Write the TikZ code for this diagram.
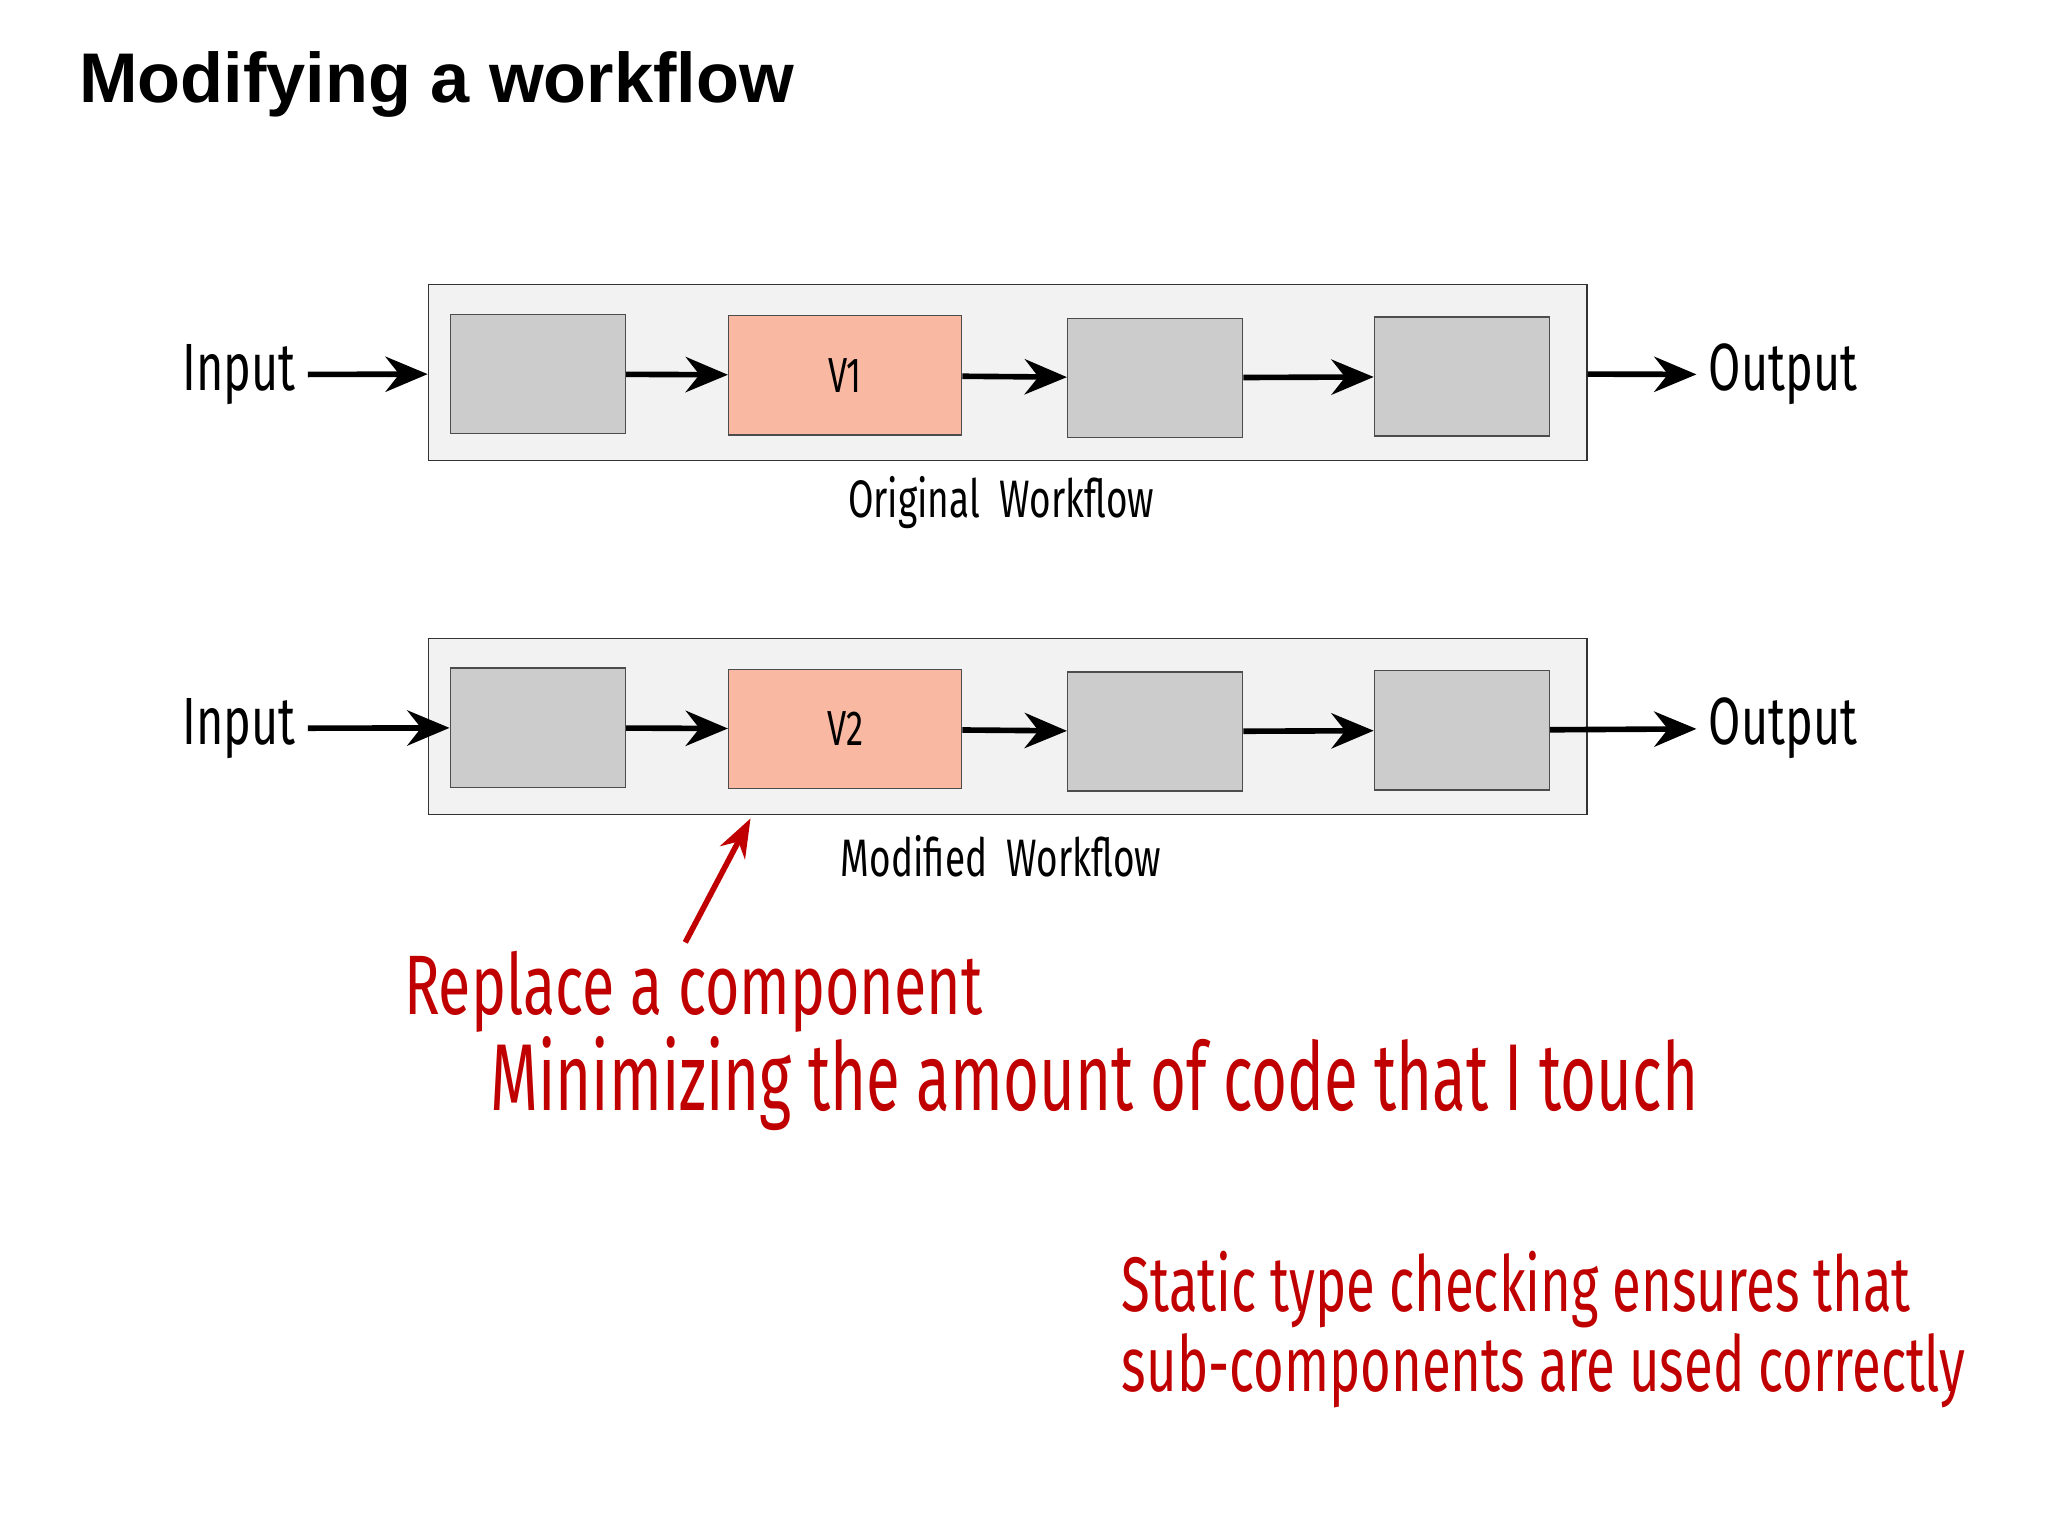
\documentclass[tikz,border=0pt]{standalone}
\usepackage{fontspec}
\usepackage{graphicx}
\setmainfont{Fira Sans}
\newfontfamily\titlefont{Liberation Sans}
\usetikzlibrary{arrows.meta}
\newcommand{\narrow}[1]{\scalebox{0.7}[1]{#1}}
\definecolor{redink}{HTML}{C00000}
\definecolor{salmon}{HTML}{F8B8A2}
\tikzset{
  stage/.style={draw=black!70, fill=black!20, minimum width=1.75cm, minimum height=1.19cm},
  vstage/.style={draw=black!70, fill=salmon, minimum width=2.33cm, minimum height=1.19cm, font=\fontsize{14}{16}\selectfont},
  frame/.style={draw=black!80, fill=black!5, minimum width=11.58cm, minimum height=1.76cm},
  flow/.style={-{Stealth[length=12pt,width=10pt]}, line width=1.6pt},
  hand/.style={font=\fontsize{19}{21}\selectfont},
  note/.style={text=redink, font=\fontsize{24}{28}\selectfont, anchor=west}
}
\begin{document}
\begin{tikzpicture}[x=0.01305cm,y=-0.01305cm]
	\useasboundingbox (0,0) rectangle (1569,1176);
	\node[anchor=west, inner sep=0pt, font=\titlefont\bfseries\fontsize{20}{24}\selectfont] at (60,65) (title) {Modifying a workflow};

	% original workflow
	\node at (772,285.5) [frame] (f1) {};
	\node at (412,286.5) [stage] (a1) {};
	\node at (647.5,287.5) [vstage] (v1) {\narrow{V1}};
	\node at (885,289.5) [stage] (c1) {};
	\node at (1120,288.5) [stage] (d1) {};
	\node at (183,287) [hand] (in1) {\narrow{Input}};
	\node at (1366,287) [hand] (out1) {\narrow{Output}};
	\node at (767,385) [font=\fontsize{15}{17}\selectfont] (l1) {\narrow{Original\ \ Workflow}};

	% modified workflow
	\node at (772,556.5) [frame] (f2) {};
	\node at (412,557.5) [stage] (a2) {};
	\node at (647.5,558.5) [vstage] (v2) {\narrow{V2}};
	\node at (885,560.5) [stage] (c2) {};
	\node at (1120,559.5) [stage] (d2) {};
	\node at (183,558) [hand] (in2) {\narrow{Input}};
	\node at (1366,558) [hand] (out2) {\narrow{Output}};
	\node at (767,656) [font=\fontsize{15}{17}\selectfont] (l2) {\narrow{Modified\ \ Workflow}};

	\draw [flow] (in1) -- (f1);
	\draw [flow] (a1) -- (v1);
	\draw [flow] (v1) -- (c1);
	\draw [flow] (c1) -- (d1);
	\draw [flow] (f1) -- (out1);
	\draw [flow] (in2) -- (a2);
	\draw [flow] (a2) -- (v2);
	\draw [flow] (v2) -- (c2);
	\draw [flow] (c2) -- (d2);
	\draw [flow] (d2) -- (out2);

	% notes
	\coordinate (tail) at (525,722);
	\coordinate (tip) at (575,627);
	\draw [-{Stealth[length=11pt,width=8pt]}, redink, line width=1.6pt] (tail) -- (tip);
	\node at (300,760) [note] (n1) {\narrow{Replace a component}};
	\node at (366,830) [note, font=\fontsize{27}{30}\selectfont] (n2) {\scalebox{0.65}[1]{Minimizing the amount of code that I touch}};
	\node at (850,988) [note, font=\fontsize{22}{26}\selectfont] (n3) {\scalebox{0.68}[1]{Static type checking ensures that}};
	\node at (850,1050) [note, font=\fontsize{22}{26}\selectfont] (n4) {\scalebox{0.68}[1]{sub-components are used correctly}};
\end{tikzpicture}
\end{document}
